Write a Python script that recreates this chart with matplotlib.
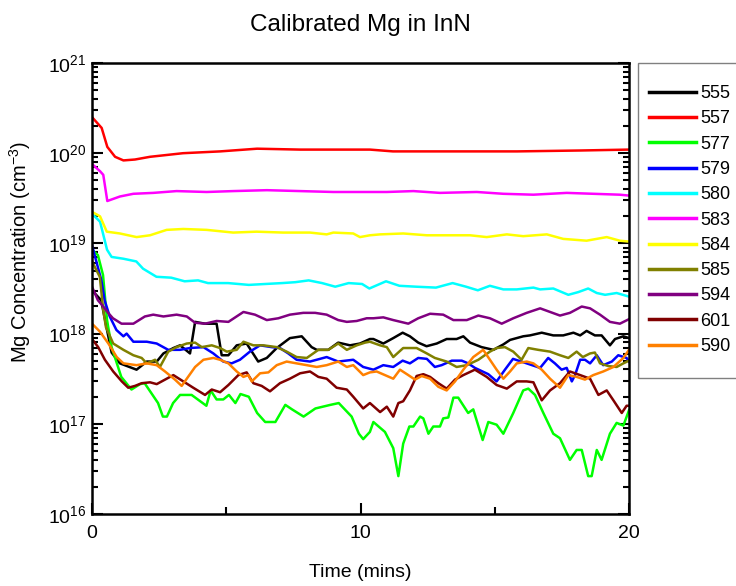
import numpy as np
import matplotlib
matplotlib.use("Agg")
import matplotlib.pyplot as plt
from matplotlib.ticker import LogLocator, FixedLocator, NullFormatter
from matplotlib.patches import Rectangle

plt.rcParams['font.family'] = ['Liberation Sans', 'DejaVu Sans']
plt.rcParams['mathtext.fontset'] = 'custom'
plt.rcParams['mathtext.rm'] = 'Liberation Sans'
plt.rcParams['mathtext.it'] = 'Liberation Sans:italic'

# ---- data: time (mins) and log10 of Mg concentration (cm^-3) ----
t_555 = [0, 0.34, 0.56, 0.73, 1.04, 1.66, 2.04, 2.41, 2.66, 3.03, 3.28, 3.65, 3.84, 4.21, 4.64, 4.83, 5.08, 5.39, 5.76, 6.19,
         6.51, 6.88, 7.37, 7.81, 8.18, 8.37, 8.80, 9.17, 9.61, 9.98, 10.35, 10.48, 10.85, 11.22, 11.57, 11.84, 12.15, 12.46, 12.84, 13.21,
         13.58, 13.83, 14.08, 14.51, 14.95, 15.32, 15.57, 16.06, 16.31, 16.75, 17.18, 17.55, 17.93, 18.18, 18.42, 18.73, 18.98, 19.29, 19.48, 19.79, 20.0]
lg_555 = [18.48, 18.37, 18.04, 17.79, 17.67, 17.60, 17.69, 17.69, 17.78, 17.84, 17.87, 17.78, 18.13, 18.11, 18.11, 17.76, 17.76, 17.87, 17.89, 17.69,
          17.73, 17.84, 17.95, 17.97, 17.85, 17.82, 17.82, 17.90, 17.87, 17.89, 17.94, 17.94, 17.89, 17.95, 18.01, 17.97, 17.90, 17.86, 17.89, 17.94,
          17.94, 17.97, 17.90, 17.85, 17.82, 17.88, 17.93, 17.97, 17.98, 18.01, 17.98, 17.98, 18.01, 17.98, 18.03, 17.98, 17.98, 17.87, 17.94, 17.97, 17.95]

t_557 = [0, 0.36, 0.57, 0.86, 1.17, 1.60, 2.16, 3.39, 4.77, 6.15, 7.75, 10.35, 11.21, 12.59, 15.83, 18.18, 20.0]
lg_557 = [20.40, 20.28, 20.07, 19.96, 19.92, 19.93, 19.96, 20.00, 20.02, 20.05, 20.04, 20.04, 20.02, 20.02, 20.02, 20.03, 20.04]

t_577 = [0, 0.22, 0.41, 0.56, 0.73, 1.09, 1.47, 1.79, 1.96, 2.21, 2.46, 2.64, 2.79, 3.02, 3.28, 3.71, 4.26, 4.42, 4.64, 4.89,
         5.10, 5.34, 5.53, 5.84, 6.15, 6.45, 6.83, 7.20, 7.45, 7.88, 8.32, 8.88, 9.19, 9.67, 9.94, 10.10, 10.35, 10.48, 10.91, 11.22,
         11.41, 11.59, 11.82, 11.97, 12.22, 12.34, 12.53, 12.71, 12.96, 13.08, 13.27, 13.46, 13.64, 14.01, 14.20, 14.55, 14.76, 15.07, 15.32, 15.69,
         16.06, 16.25, 16.50, 16.81, 17.18, 17.43, 17.80, 18.05, 18.24, 18.48, 18.61, 18.80, 18.98, 19.29, 19.54, 19.79, 20.0]
lg_577 = [18.93, 18.87, 18.65, 18.15, 17.85, 17.52, 17.38, 17.44, 17.45, 17.34, 17.23, 17.08, 17.08, 17.23, 17.32, 17.32, 17.20, 17.37, 17.27, 17.27,
          17.32, 17.23, 17.33, 17.30, 17.12, 17.02, 17.02, 17.21, 17.16, 17.08, 17.17, 17.21, 17.23, 17.08, 16.89, 16.83, 16.91, 17.02, 16.91, 16.73,
          16.42, 16.78, 16.97, 16.97, 17.08, 17.06, 16.89, 16.97, 16.97, 17.06, 17.07, 17.29, 17.29, 17.12, 17.16, 16.82, 17.02, 16.99, 16.89, 17.12,
          17.37, 17.39, 17.32, 17.12, 16.89, 16.84, 16.60, 16.71, 16.71, 16.42, 16.42, 16.71, 16.60, 16.89, 17.01, 16.98, 17.15]

t_579 = [0, 0.35, 0.47, 0.66, 0.91, 1.17, 1.29, 1.54, 2.04, 2.41, 2.84, 3.28, 3.65, 4.15, 4.52, 4.89, 5.20, 5.51, 5.88, 6.26,
         6.69, 7.00, 7.31, 7.62, 8.12, 8.74, 9.17, 9.73, 10.10, 10.48, 10.85, 11.22, 11.57, 11.84, 12.15, 12.47, 12.77, 13.02, 13.40, 13.77,
         14.01, 14.26, 14.76, 15.07, 15.38, 15.68, 16.19, 16.69, 16.99, 17.24, 17.49, 17.68, 17.87, 17.99, 18.18, 18.36, 18.55, 18.80, 19.04, 19.36,
         19.60, 19.91, 20.0]
lg_579 = [18.98, 18.59, 18.37, 18.19, 18.04, 17.97, 18.00, 17.91, 17.91, 17.89, 17.82, 17.82, 17.84, 17.85, 17.78, 17.69, 17.67, 17.71, 17.80, 17.87,
          17.85, 17.84, 17.78, 17.71, 17.69, 17.74, 17.69, 17.71, 17.63, 17.60, 17.65, 17.63, 17.70, 17.67, 17.73, 17.72, 17.63, 17.65, 17.70, 17.70,
          17.67, 17.62, 17.55, 17.47, 17.60, 17.72, 17.67, 17.62, 17.73, 17.67, 17.60, 17.62, 17.47, 17.54, 17.71, 17.71, 17.67, 17.76, 17.65, 17.69,
          17.76, 17.73, 17.69]

t_580 = [0, 0.30, 0.56, 0.73, 1.17, 1.65, 1.90, 2.40, 2.95, 3.45, 3.95, 4.32, 5.07, 5.84, 6.45, 7.08, 7.57, 8.07, 8.57, 9.06,
         9.56, 10.06, 10.33, 10.95, 11.45, 12.07, 12.81, 13.43, 13.93, 14.37, 14.82, 15.32, 15.82, 16.44, 16.69, 17.18, 17.74, 18.11, 18.48, 18.80,
         19.11, 19.54, 20.0]
lg_580 = [19.33, 19.24, 18.93, 18.85, 18.83, 18.80, 18.72, 18.63, 18.62, 18.58, 18.59, 18.56, 18.56, 18.54, 18.55, 18.56, 18.57, 18.59, 18.56, 18.52,
          18.56, 18.55, 18.50, 18.58, 18.53, 18.52, 18.51, 18.56, 18.52, 18.48, 18.53, 18.49, 18.49, 18.51, 18.49, 18.50, 18.43, 18.46, 18.50, 18.45,
          18.43, 18.45, 18.41]

t_583 = [0, 0.30, 0.42, 0.57, 1.04, 1.54, 2.28, 3.15, 4.27, 5.26, 6.51, 7.75, 8.99, 10.98, 11.97, 12.96, 14.33, 15.32, 16.44, 17.68,
         18.67, 19.66, 20.0]
lg_583 = [19.88, 19.80, 19.76, 19.47, 19.52, 19.55, 19.56, 19.58, 19.57, 19.58, 19.59, 19.58, 19.57, 19.57, 19.58, 19.56, 19.57, 19.55, 19.54, 19.56,
          19.55, 19.54, 19.53]

t_584 = [0, 0.30, 0.55, 1.04, 1.66, 2.16, 2.78, 3.40, 4.27, 5.26, 6.13, 7.12, 8.12, 8.74, 8.99, 9.73, 9.98, 10.35, 10.73, 11.59,
         12.47, 13.33, 14.08, 14.70, 15.45, 16.06, 16.94, 17.55, 18.42, 19.17, 19.66, 20.0]
lg_584 = [19.35, 19.30, 19.13, 19.11, 19.07, 19.09, 19.15, 19.16, 19.15, 19.12, 19.13, 19.12, 19.12, 19.10, 19.12, 19.11, 19.07, 19.09, 19.10, 19.11,
          19.09, 19.09, 19.09, 19.07, 19.10, 19.08, 19.10, 19.05, 19.03, 19.07, 19.03, 19.02]

t_585 = [0, 0.29, 0.42, 0.52, 0.79, 1.17, 1.54, 1.85, 2.04, 2.35, 2.53, 2.84, 3.15, 3.53, 3.84, 4.09, 4.46, 4.77, 5.02, 5.39,
         5.64, 6.01, 6.38, 6.88, 7.25, 7.62, 8.00, 8.43, 8.80, 9.17, 9.49, 9.86, 10.17, 10.35, 10.73, 10.98, 11.22, 11.59, 12.09, 12.47,
         12.77, 13.21, 13.58, 13.96, 14.39, 14.82, 15.07, 15.38, 15.69, 16.00, 16.25, 16.62, 17.06, 17.43, 17.74, 18.05, 18.28, 18.55, 18.73, 18.92,
         19.23, 19.54, 19.79, 20.0]
lg_585 = [18.80, 18.63, 18.26, 18.07, 17.89, 17.82, 17.76, 17.73, 17.67, 17.71, 17.63, 17.80, 17.85, 17.89, 17.90, 17.85, 17.87, 17.84, 17.80, 17.82,
          17.91, 17.87, 17.87, 17.85, 17.80, 17.74, 17.73, 17.82, 17.82, 17.89, 17.82, 17.87, 17.90, 17.91, 17.87, 17.85, 17.74, 17.84, 17.84, 17.78,
          17.73, 17.69, 17.63, 17.65, 17.71, 17.80, 17.84, 17.85, 17.80, 17.71, 17.84, 17.82, 17.80, 17.76, 17.73, 17.80, 17.74, 17.78, 17.79, 17.67,
          17.64, 17.63, 17.67, 17.70]

t_594 = [0, 0.22, 0.42, 0.60, 0.78, 1.10, 1.54, 1.97, 2.28, 2.66, 3.15, 3.53, 3.84, 4.21, 4.64, 5.08, 5.64, 6.07, 6.51, 6.94,
         7.37, 7.87, 8.31, 8.74, 9.17, 9.49, 9.86, 10.23, 10.48, 10.85, 11.22, 11.78, 12.15, 12.59, 13.08, 13.46, 13.96, 14.39, 14.82, 15.26,
         15.69, 16.19, 16.69, 17.06, 17.43, 17.80, 18.24, 18.55, 18.92, 19.29, 19.66, 20.0]
lg_594 = [18.52, 18.37, 18.30, 18.23, 18.17, 18.11, 18.11, 18.19, 18.21, 18.19, 18.21, 18.19, 18.12, 18.11, 18.14, 18.13, 18.24, 18.21, 18.15, 18.17,
          18.21, 18.23, 18.23, 18.21, 18.15, 18.13, 18.14, 18.17, 18.17, 18.18, 18.15, 18.11, 18.17, 18.22, 18.21, 18.15, 18.15, 18.20, 18.17, 18.11,
          18.17, 18.23, 18.28, 18.24, 18.20, 18.23, 18.30, 18.28, 18.21, 18.13, 18.11, 18.16]

t_601 = [0, 0.23, 0.48, 0.79, 1.11, 1.35, 1.60, 1.85, 2.16, 2.41, 2.72, 3.03, 3.40, 3.77, 4.21, 4.46, 4.77, 5.08, 5.45, 5.76,
         6.01, 6.32, 6.63, 7.00, 7.37, 7.75, 8.12, 8.43, 8.74, 9.11, 9.49, 9.73, 10.10, 10.35, 10.73, 10.98, 11.22, 11.41, 11.59, 11.84,
         12.09, 12.34, 12.59, 12.90, 13.21, 13.52, 13.83, 14.26, 14.70, 15.07, 15.45, 15.82, 16.19, 16.44, 16.75, 17.06, 17.43, 17.80, 18.18, 18.55,
         18.86, 19.17, 19.42, 19.73, 19.91, 20.0]
lg_601 = [17.94, 17.85, 17.71, 17.58, 17.47, 17.40, 17.42, 17.45, 17.46, 17.44, 17.49, 17.54, 17.47, 17.40, 17.32, 17.38, 17.35, 17.43, 17.54, 17.57,
          17.45, 17.42, 17.36, 17.45, 17.50, 17.56, 17.58, 17.52, 17.50, 17.40, 17.38, 17.30, 17.17, 17.23, 17.13, 17.19, 17.08, 17.23, 17.25, 17.37,
          17.53, 17.55, 17.52, 17.45, 17.39, 17.49, 17.54, 17.60, 17.52, 17.43, 17.39, 17.47, 17.47, 17.46, 17.26, 17.37, 17.45, 17.58, 17.54, 17.50,
          17.32, 17.37, 17.26, 17.12, 17.20, 17.20]

t_590 = [0, 0.30, 0.61, 0.92, 1.17, 1.66, 2.04, 2.41, 2.72, 3.09, 3.34, 3.53, 3.84, 4.15, 4.52, 4.77, 5.08, 5.39, 5.64, 5.82,
         5.95, 6.26, 6.57, 6.88, 7.25, 7.62, 8.00, 8.37, 8.74, 9.17, 9.49, 9.73, 10.10, 10.35, 10.60, 10.91, 11.22, 11.47, 11.78, 12.03,
         12.28, 12.59, 12.90, 13.21, 13.52, 13.83, 14.20, 14.57, 14.82, 15.07, 15.32, 15.57, 15.82, 16.19, 16.44, 16.75, 17.06, 17.43, 17.74, 18.05,
         18.36, 18.67, 19.04, 19.42, 19.79, 20.0]
lg_590 = [18.11, 18.02, 17.89, 17.74, 17.67, 17.65, 17.67, 17.65, 17.58, 17.49, 17.42, 17.50, 17.63, 17.71, 17.73, 17.71, 17.67, 17.58, 17.52, 17.54,
          17.47, 17.56, 17.57, 17.65, 17.69, 17.67, 17.65, 17.63, 17.65, 17.69, 17.63, 17.65, 17.54, 17.57, 17.58, 17.54, 17.50, 17.60, 17.54, 17.49,
          17.53, 17.50, 17.41, 17.37, 17.47, 17.60, 17.74, 17.82, 17.71, 17.60, 17.50, 17.58, 17.67, 17.69, 17.67, 17.60, 17.50, 17.40, 17.54, 17.52,
          17.49, 17.54, 17.58, 17.63, 17.73, 17.82]

labels = ['555', '557', '577', '579', '580', '583', '584', '585', '594', '601', '590']
times = [t_555, t_557, t_577, t_579, t_580, t_583, t_584, t_585, t_594, t_601, t_590]
logs = [lg_555, lg_557, lg_577, lg_579, lg_580, lg_583, lg_584, lg_585, lg_594, lg_601, lg_590]
colors = ['#000000', '#FF0000', '#00FF00', '#0000FF', '#00FFFF', '#FF00FF', '#FFFF00',
          '#808000', '#800080', '#800000', '#FF8000']

x_ticks = [0, 10, 20]
x_minor = [5, 15]
y_ticks = [1e16, 1e17, 1e18, 1e19, 1e20, 1e21]
y_ticklabels = [r'$10^{16}$', r'$10^{17}$', r'$10^{18}$', r'$10^{19}$', r'$10^{20}$', r'$10^{21}$']

W, H = 736, 586
fig = plt.figure(figsize=(W / 100, H / 100), dpi=100)
ax = fig.add_axes([92 / W, 1 - 514 / H, (629 - 92) / W, (514 - 63) / H])

for t, lg, c, lab in zip(times, logs, colors, labels):
    ax.plot(t, np.power(10.0, lg), color=c, lw=1.8, label=lab)

ax.set_yscale('log')
ax.set_xlim(0, 20)
ax.set_ylim(1e16, 1e21)
ax.xaxis.set_major_locator(FixedLocator(x_ticks))
ax.xaxis.set_minor_locator(FixedLocator(x_minor))
ax.set_xticklabels([str(v) for v in x_ticks])
ax.yaxis.set_major_locator(FixedLocator(y_ticks))
ax.set_yticklabels(y_ticklabels)
ax.yaxis.set_minor_locator(LogLocator(base=10, subs=np.arange(2, 10), numticks=20))
ax.yaxis.set_minor_formatter(NullFormatter())

ax.tick_params(axis='y', which='both', direction='in', left=True, right=True, width=1.5, labelsize=14, pad=4)
ax.tick_params(axis='y', which='major', length=8)
ax.tick_params(axis='y', which='minor', length=4.5)
ax.tick_params(axis='x', which='both', direction='in', bottom=True, top=False, width=1.5, labelsize=14, pad=8)
ax.tick_params(axis='x', which='major', length=8)
ax.tick_params(axis='x', which='minor', length=5)
for s in ax.spines.values():
    s.set_linewidth(1.8)

ax.set_title('Calibrated Mg in InN', fontsize=17.5, pad=23)
ax.set_xlabel('Time (mins)', fontsize=14)
ax.xaxis.set_label_coords(0.5, -(564 - 514) / (514 - 63))
ax.set_ylabel(r'Mg Concentration (cm$^{-3}$)', fontsize=14.5)
ax.yaxis.set_label_coords(-(92 - 33) / (629 - 92), (514 - 252) / (514 - 63))

# legend frame (extends past the right edge, as in the reference)
fig.patches.append(Rectangle((638 / W, 1 - 378 / H), (745 - 638) / W, (378 - 63) / H,
                             transform=fig.transFigure, fill=False, edgecolor='#808080', lw=1.0))
leg = fig.legend(loc='upper left', bbox_to_anchor=(649 / W, 1 - 85 / H), bbox_transform=fig.transFigure,
                 frameon=False, fontsize=13, handlelength=2.6, handletextpad=0.22,
                 labelspacing=0.46, borderpad=0, borderaxespad=0)
for line in leg.get_lines():
    line.set_linewidth(2.5)

fig.savefig('out.png', dpi=100)
